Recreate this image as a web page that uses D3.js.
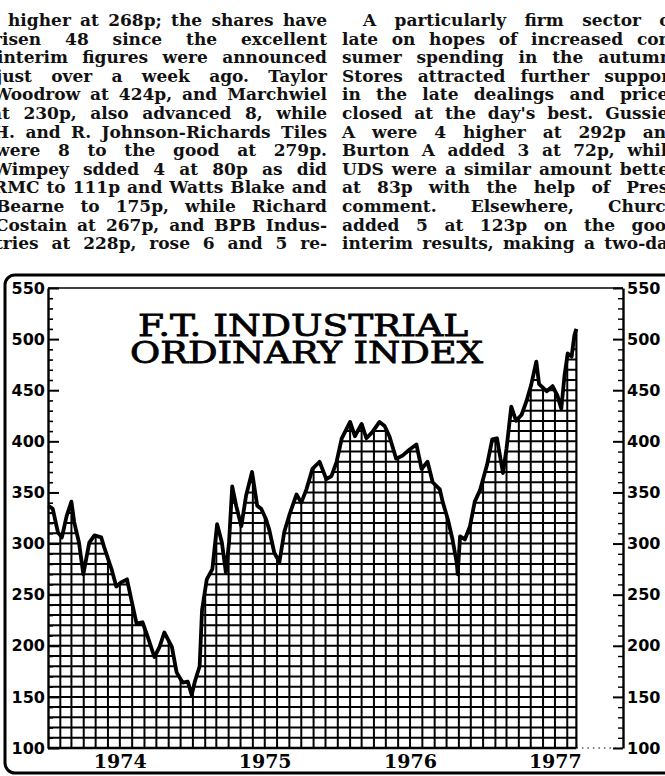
<!DOCTYPE html>
<html>
<head>
<meta charset="utf-8">
<script src="https://cdn.jsdelivr.net/npm/d3@7"></script>
<style>
body { margin: 0; background: #fff; }
svg { display: block; }
</style>
</head>
<body>
<script>
// FT 30 index
var dates = ["1974-01-02","1974-01-13","1974-01-26","1974-02-05","1974-02-17","1974-03-01","1974-03-08","1974-03-20","1974-03-31","1974-04-15",
  "1974-04-28","1974-05-15","1974-05-22","1974-06-10","1974-06-22","1974-07-04","1974-07-19","1974-07-30","1974-08-12","1974-08-27",
  "1974-09-09","1974-09-26","1974-10-09","1974-10-21","1974-11-09","1974-11-21","1974-12-06","1974-12-19","1974-12-29","1975-01-06",
  "1975-01-18","1975-01-24","1975-02-05","1975-02-19","1975-03-03","1975-03-15","1975-03-25","1975-04-02","1975-04-10","1975-04-20",
  "1975-05-03","1975-05-15","1975-05-30","1975-06-12","1975-06-22","1975-07-04","1975-07-12","1975-07-25","1975-08-07","1975-08-19",
  "1975-09-01","1975-09-19","1975-10-01","1975-10-14","1975-10-29","1975-11-16","1975-12-03","1975-12-16","1975-12-29","1976-01-11",
  "1976-02-01","1976-02-13","1976-03-01","1976-03-13","1976-03-28","1976-04-15","1976-04-28","1976-05-10","1976-05-27","1976-06-12",
  "1976-06-30","1976-07-17","1976-07-30","1976-08-14","1976-08-27","1976-09-14","1976-09-21","1976-10-04","1976-10-16","1976-10-27",
  "1976-10-29","1976-11-04","1976-11-16","1976-11-29","1976-12-11","1976-12-24","1977-01-11","1977-01-24","1977-02-05","1977-02-20",
  "1977-03-01","1977-03-13","1977-03-25","1977-04-08","1977-04-20","1977-05-02","1977-05-15","1977-05-22","1977-06-10","1977-06-25",
  "1977-07-07","1977-07-17","1977-07-25","1977-08-02","1977-08-12","1977-08-19","1977-08-24"];
var index = [337,334,311,306,327,341,321,301,270,301,
  308,306,297,275,258,262,265,245,222,223,
  209,189,199,213,199,174,164,165,152,165,
  180,235,265,275,319,301,272,301,356,337,
  317,347,370,337,334,324,314,291,282,311,
  328,348,340,353,373,380,363,366,380,403,
  419,405,417,403,409,419,415,405,383,386,
  392,397,373,380,360,353,341,324,304,280,
  270,307,304,317,341,352,377,402,403,369,
  393,434,420,426,439,455,478,456,449,454,
  445,432,464,486,483,504,510];

var yearLabels = ["1974","1975","1976","1977"];
var majorTicks = [100,150,200,250,300,350,400,450,500,550];
var titleLines = ["F.T. INDUSTRIAL","ORDINARY INDEX"];

var leftText = [
  "higher at 268p; the shares have",
  "risen 48 since the excellent",
  "interim figures were announced",
  "just over a week ago. Taylor",
  "Woodrow at 424p, and Marchwiel",
  "at 230p, also advanced 8, while",
  "H. and R. Johnson-Richards Tiles",
  "were 8 to the good at 279p.",
  "Wimpey sdded 4 at 80p as did",
  "RMC to 111p and Watts Blake and",
  "Bearne to 175p, while Richard",
  "Costain at 267p, and BPB Indus-",
  "tries at 228p, rose 6 and 5 re-"
];
var rightText = [
  "A particularly firm sector of",
  "late on hopes of increased con-",
  "sumer spending in the autumn,",
  "Stores attracted further support",
  "in the late dealings and prices",
  "closed at the day's best. Gussies",
  "A were 4 higher at 292p and",
  "Burton A added 3 at 72p, while",
  "UDS were a similar amount better",
  "at 83p with the help of Press",
  "comment. Elsewhere, Church",
  "added 5 at 123p on the good",
  "interim results, making a two-day"
];

var W = 665, H = 776;
var svg = d3.select("body").append("svg").attr("width", W).attr("height", H);

// ---- newspaper columns
var textG = svg.append("g")
  .style("font-family", "'DejaVu Serif', serif")
  .style("font-weight", "bold")
  .style("font-size", "17px")
  .attr("fill", "#111");

function setLine(words, x0, x1, yy) {
  var g = textG.append("g");
  var nodes = words.map(w => g.append("text").attr("y", yy).text(w));
  var widths = nodes.map(n => n.node().getComputedTextLength());
  var sum = d3.sum(widths);
  var gap = (x1 - x0 - sum) / (words.length - 1);
  var s = 1;
  if (gap < 6) { s = (x1 - x0 - 6 * (words.length - 1)) / sum; gap = 6; }
  var xx = x0;
  nodes.forEach((n, i) => {
    n.attr("x", xx);
    if (s != 1) n.attr("textLength", widths[i] * s).attr("lengthAdjust", "spacingAndGlyphs");
    xx += widths[i] * s + gap;
  });
}

var leftStart = [8, -7, -3, -4, -7, -9, -7, -5, -7, -7, -4, -5, -5];
leftText.forEach((l, i) => setLine(l.split(" "), leftStart[i], 327, 26 + i * 18.6));
rightText.forEach((l, i) => setLine(l.split(" "), i == 0 ? 363 : 342, 678, 26 + i * 18.6));

// ---- chart
var x = d3.scaleTime().domain([new Date(1974, 0, 1), new Date(1978, 0, 1)]).range([48, 628]);
var y = d3.scaleLinear().domain([100, 550]).range([748, 288]);
var parse = d3.timeParse("%Y-%m-%d");
var data = dates.map((d, i) => ({date: parse(d), value: index[i]}));
var last = data[data.length - 1];

// outer frame
svg.append("rect")
  .attr("x", 5).attr("y", 275).attr("width", 690).attr("height", 498).attr("rx", 10)
  .attr("fill", "none").attr("stroke", "#000").attr("stroke-width", 3);

// top line of plot
svg.append("line")
  .attr("x1", 48).attr("x2", 623).attr("y1", y(550)).attr("y2", y(550))
  .attr("stroke", "#000").attr("stroke-width", 1.6);

// title
svg.selectAll(".title").data(titleLines).join("text")
  .attr("class", "title")
  .attr("x", (d, i) => i == 0 ? 138 : 130)
  .attr("y", (d, i) => i == 0 ? 336 : 363)
  .attr("textLength", (d, i) => i == 0 ? 330 : 353)
  .attr("lengthAdjust", "spacingAndGlyphs")
  .style("font-family", "'DejaVu Serif', serif")
  .style("font-size", "30px")
  .attr("fill", "#000")
  .attr("stroke", "#000")
  .attr("stroke-width", 0.8)
  .text(d => d);

// hatched area under the index
var area = d3.area().x(d => x(d.date)).y0(y(100)).y1(d => y(d.value));
var line = d3.line().x(d => x(d.date)).y(d => y(d.value));

svg.append("clipPath").attr("id", "under")
  .append("path").attr("d", area(data));

var grid = svg.append("g").attr("clip-path", "url(#under)")
  .attr("stroke", "#000").attr("stroke-width", 2);

grid.selectAll(".h").data(d3.range(110, 550, 10)).join("line")
  .attr("x1", 48).attr("x2", x(last.date))
  .attr("y1", d => y(d)).attr("y2", d => y(d));

grid.selectAll(".v").data(d3.timeMonth.range(new Date(1974, 1, 1), last.date)).join("line")
  .attr("x1", d => x(d)).attr("x2", d => x(d))
  .attr("y1", y(100)).attr("y2", y(550));

// right edge + baseline of the hatched area
svg.append("line")
  .attr("x1", x(last.date)).attr("x2", x(last.date))
  .attr("y1", y(last.value)).attr("y2", y(100))
  .attr("stroke", "#000").attr("stroke-width", 2.2);
svg.append("line")
  .attr("x1", 48).attr("x2", x(last.date)).attr("y1", y(100)).attr("y2", y(100))
  .attr("stroke", "#000").attr("stroke-width", 2.5);
svg.append("line")
  .attr("x1", x(last.date)).attr("x2", 623).attr("y1", y(100)).attr("y2", y(100))
  .attr("stroke", "#000").attr("stroke-width", 1.2).attr("stroke-dasharray", "1.5,4");

svg.append("path")
  .datum(data)
  .attr("d", line)
  .attr("fill", "none")
  .attr("stroke", "#000")
  .attr("stroke-width", 3.8)
  .attr("stroke-linejoin", "round");

// axes
function styleAxis(g) {
  g.select(".domain").attr("stroke-width", 2.4);
  g.selectAll(".tick line").attr("stroke-width", 2);
  g.selectAll("text")
    .style("font-family", "'DejaVu Sans', sans-serif")
    .style("font-weight", "bold")
    .style("font-size", "16px")
    .attr("fill", "#000");
}
var minor = d3.range(100, 551, 10).filter(v => v % 50 != 0);

svg.append("g").attr("transform", "translate(48,0)")
  .call(d3.axisLeft(y).tickValues(minor).tickSizeInner(-5).tickSizeOuter(0).tickFormat(""))
  .call(g => g.select(".domain").remove())
  .selectAll(".tick line").attr("stroke-width", 1.6);
svg.append("g").attr("transform", "translate(48,0)")
  .call(d3.axisLeft(y).tickValues(majorTicks).tickSizeInner(-11).tickSizeOuter(0).tickPadding(3))
  .call(styleAxis);

svg.append("g").attr("transform", "translate(623,0)")
  .call(d3.axisRight(y).tickValues(minor).tickSizeInner(-5).tickSizeOuter(0).tickFormat(""))
  .call(g => g.select(".domain").remove())
  .selectAll(".tick line").attr("stroke-width", 1.4);
svg.append("g").attr("transform", "translate(623,0)")
  .call(d3.axisRight(y).tickValues(majorTicks).tickSizeInner(-10).tickSizeOuter(0).tickPadding(4))
  .call(styleAxis);

// year labels
svg.selectAll(".year").data(yearLabels).join("text")
  .attr("class", "year")
  .attr("x", d => x(new Date(+d, 6, 2)))
  .attr("y", 768)
  .attr("text-anchor", "middle")
  .style("font-family", "'DejaVu Serif', serif")
  .style("font-weight", "bold")
  .style("font-size", "19px")
  .attr("fill", "#000")
  .text(d => d);
</script>
</body>
</html>
